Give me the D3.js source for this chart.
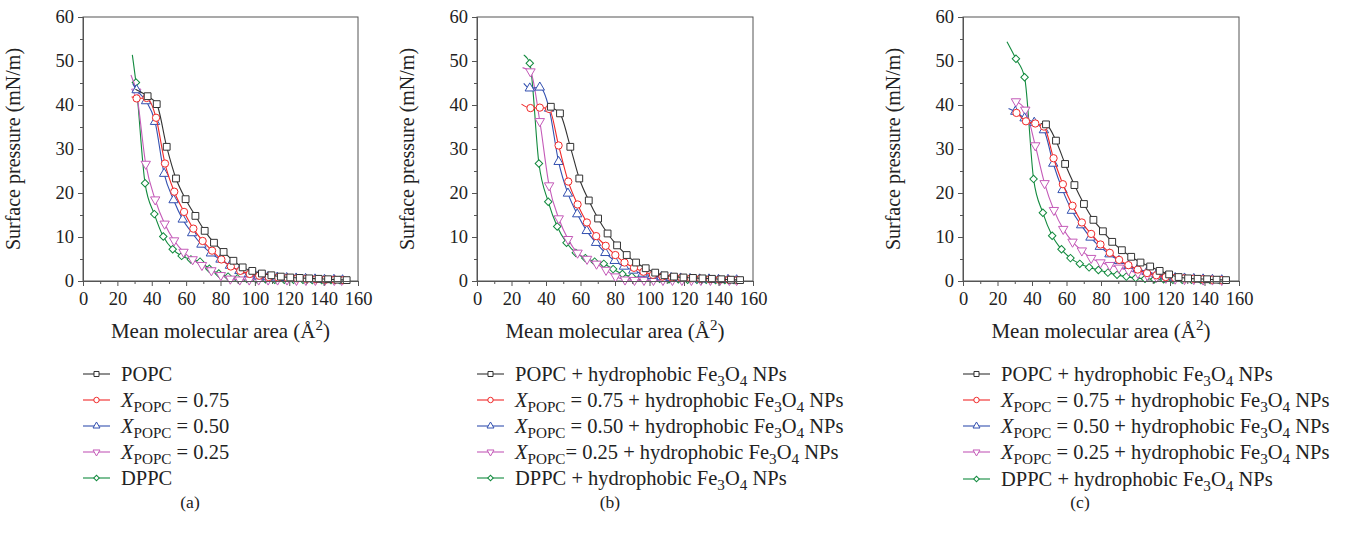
<!DOCTYPE html>
<html>
<head>
<meta charset="utf-8">
<script src="https://cdn.jsdelivr.net/npm/d3@7"></script>
<style>
  body { margin: 0; background: #fff; }
  svg { font-family: "Liberation Serif", "DejaVu Serif", serif; }
</style>
</head>
<body>
<div id="chart"></div>
<script>
// tick values
const xTicks = [0, 20, 40, 60, 80, 100, 120, 140, 160];
const xMinor = [10, 30, 50, 70, 90, 110, 130, 150];
const yTicks = [0, 10, 20, 30, 40, 50, 60];
const yMinor = [5, 15, 25, 35, 45, 55];

// legend texts (tiny markup: <i>, <sub>, <sup>)
const labelsA = [
  "POPC",
  "<i>X</i><sub>POPC</sub> = 0.75",
  "<i>X</i><sub>POPC</sub> = 0.50",
  "<i>X</i><sub>POPC</sub> = 0.25",
  "DPPC"
];
const labelsB = [
  "POPC + hydrophobic Fe<sub>3</sub>O<sub>4</sub> NPs",
  "<i>X</i><sub>POPC</sub> = 0.75 + hydrophobic Fe<sub>3</sub>O<sub>4</sub> NPs",
  "<i>X</i><sub>POPC</sub> = 0.50 + hydrophobic Fe<sub>3</sub>O<sub>4</sub> NPs",
  "<i>X</i><sub>POPC</sub>= 0.25 + hydrophobic Fe<sub>3</sub>O<sub>4</sub> NPs",
  "DPPC + hydrophobic Fe<sub>3</sub>O<sub>4</sub> NPs"
];
const labelsC = [
  "POPC + hydrophobic Fe<sub>3</sub>O<sub>4</sub> NPs",
  "<i>X</i><sub>POPC</sub> = 0.75 + hydrophobic Fe<sub>3</sub>O<sub>4</sub> NPs",
  "<i>X</i><sub>POPC</sub> = 0.50 + hydrophobic Fe<sub>3</sub>O<sub>4</sub> NPs",
  "<i>X</i><sub>POPC</sub> = 0.25 + hydrophobic Fe<sub>3</sub>O<sub>4</sub> NPs",
  "DPPC + hydrophobic Fe<sub>3</sub>O<sub>4</sub> NPs"
];

// isotherms [area, pressure]; first point is the start of the trace (no marker)
// panel (a)
const a_popc = [[30.5,43.6],[37.6,42.0],[42.9,40.2],[48.7,30.5],[54.1,23.3],[59.7,18.6],[65.4,14.8],[70.8,11.4],[76.2,8.7],[81.8,6.6],[87.5,4.6],[92.9,3.1],[98.5,2.3],[104.1,1.7],[109.6,1.3],[115.1,1.0],[120.6,0.8],[126.1,0.7],[131.6,0.6],[137.1,0.5],[142.6,0.4],[148.1,0.3],[153.4,0.2]];
const a_x75 = [[28.3,41.9],[31.2,41.5],[37.0,41.6],[42.5,37.1],[47.7,26.7],[53.1,20.3],[58.8,15.7],[64.2,11.9],[69.6,9.1],[75.1,6.9],[80.5,4.9],[86.0,3.3],[91.5,2.3],[97.0,1.6],[102.5,1.2],[108.0,0.9],[113.5,0.8],[119.0,0.7],[124.5,0.6],[130.0,0.5],[135.5,0.4],[141.0,0.3],[146.5,0.3],[151.5,0.2]];
const a_x50 = [[29.0,44.8],[31.2,43.4],[36.7,40.9],[41.9,36.2],[47.2,24.4],[52.7,18.4],[58.0,14.0],[63.5,10.9],[68.9,8.3],[74.4,6.3],[80.0,4.9],[85.5,3.5],[91.0,2.3],[96.6,1.6],[102.0,1.1],[107.5,0.9],[113.0,0.8],[118.5,0.7],[124.0,0.6],[129.5,0.5],[135.0,0.4],[140.5,0.3],[146.0,0.3],[151.0,0.2]];
const a_x25 = [[27.9,46.8],[31.0,43.0],[36.5,26.6],[42.0,18.5],[47.5,13.0],[53.0,9.2],[58.5,6.6],[63.8,4.9],[69.2,3.6],[74.7,2.4],[80.2,1.3],[85.7,0.5],[91.2,0.3],[96.7,0.3],[102.2,0.3],[107.7,0.3],[113.2,0.3],[118.7,0.3],[124.2,0.2],[129.7,0.2],[135.2,0.2],[140.7,0.2],[146.2,0.2],[150.5,0.2]];
const a_dppc = [[28.7,51.4],[30.8,45.1],[36.1,22.2],[41.5,15.2],[46.7,10.1],[52.2,7.2],[57.4,5.7],[62.8,4.9],[68.1,4.4],[73.5,2.8],[79.0,1.7],[84.4,1.0],[89.8,0.6],[95.3,0.5],[100.7,0.4],[106.2,0.4],[111.6,0.3],[117.1,0.3],[122.5,0.3],[128.0,0.3],[133.4,0.2],[138.9,0.2],[144.3,0.2],[149.5,0.2]];
// panel (b)
const b_popc = [[41.5,40.0],[42.8,39.6],[48.1,38.1],[54.1,30.5],[59.3,23.3],[64.8,18.3],[70.2,14.2],[75.7,10.8],[81.2,8.1],[86.8,5.9],[92.2,4.2],[97.8,2.9],[103.3,1.9],[108.7,1.3],[114.2,1.0],[119.7,0.8],[125.2,0.7],[130.7,0.6],[136.2,0.5],[141.7,0.4],[147.2,0.3],[152.5,0.2]];
const b_x75 = [[25.8,40.2],[31.0,39.3],[36.4,39.4],[41.8,39.1],[47.3,30.8],[52.9,22.6],[58.3,17.4],[63.7,13.3],[69.1,10.2],[74.6,8.0],[80.2,5.9],[85.5,4.2],[91.0,3.0],[96.5,2.1],[102.0,1.4],[107.5,1.0],[113.0,0.8],[118.5,0.7],[124.0,0.6],[129.5,0.5],[135.0,0.4],[140.5,0.3],[146.0,0.3],[151.0,0.2]];
const b_x50 = [[27.1,44.9],[30.6,43.8],[36.4,44.0],[41.8,39.2],[47.3,27.1],[52.7,19.9],[58.1,15.2],[63.6,11.4],[69.0,8.7],[74.4,6.4],[79.8,4.6],[85.2,3.3],[90.6,2.4],[96.0,1.7],[101.5,1.2],[107.0,0.9],[112.5,0.7],[118.0,0.6],[123.5,0.5],[129.0,0.4],[134.5,0.4],[140.0,0.3],[145.5,0.3],[150.5,0.2]];
const b_x25 = [[26.4,48.5],[31.0,47.6],[36.4,36.3],[41.8,21.7],[47.4,14.2],[52.8,9.5],[58.3,6.4],[63.8,5.0],[69.3,3.9],[74.8,2.5],[80.3,1.0],[85.8,0.3],[91.3,0.2],[96.8,0.2],[102.3,0.2],[107.8,0.2],[113.3,0.2],[118.8,0.2],[124.3,0.2],[129.8,0.2],[135.3,0.2],[140.8,0.2],[146.3,0.2],[150.5,0.2]];
const b_dppc = [[27.1,51.4],[30.6,49.5],[35.9,26.7],[41.3,18.0],[46.5,12.4],[51.9,8.7],[57.3,6.4],[62.8,5.2],[68.2,4.4],[73.5,3.9],[78.9,2.7],[84.3,1.6],[89.7,1.0],[95.1,0.8],[100.5,0.6],[105.9,0.5],[111.3,0.4],[116.7,0.4],[122.1,0.3],[127.5,0.3],[132.9,0.3],[138.3,0.2],[143.7,0.2],[149.0,0.2]];
// panel (c)
const c_popc = [[45.0,35.8],[48.1,35.6],[53.9,31.9],[59.2,26.6],[64.6,21.8],[70.1,17.5],[75.6,13.9],[81.1,11.3],[86.5,8.9],[92.1,7.0],[97.5,5.5],[102.9,4.2],[108.5,3.3],[114.0,2.3],[119.5,1.5],[125.0,0.9],[130.5,0.6],[136.0,0.5],[141.5,0.4],[147.0,0.3],[152.5,0.2]];
const c_x75 = [[29.5,38.6],[31.0,38.2],[36.5,36.3],[41.9,35.8],[46.9,35.1],[52.5,27.9],[57.9,22.0],[63.5,17.1],[68.9,13.3],[74.3,10.7],[79.7,8.3],[85.1,6.4],[90.5,4.8],[95.9,3.6],[101.3,2.6],[106.7,1.8],[112.1,1.3],[117.5,0.9],[122.9,0.7],[128.3,0.6],[133.7,0.5],[139.1,0.4],[144.5,0.3],[150.0,0.2]];
const c_x50 = [[26.4,39.2],[30.3,38.5],[35.7,37.0],[41.3,36.0],[46.9,34.3],[52.3,26.7],[57.7,20.7],[63.1,16.0],[68.5,12.7],[73.9,9.9],[79.3,7.8],[84.9,6.1],[90.4,4.6],[95.9,3.5],[101.3,2.8],[106.7,2.1],[112.2,1.5],[117.6,1.0],[123.0,0.7],[128.4,0.6],[133.8,0.5],[139.2,0.4],[144.6,0.3],[150.0,0.2]];
const c_x25 = [[28.8,41.0],[30.7,40.8],[36.1,38.9],[41.9,30.8],[47.3,22.2],[52.7,16.1],[58.1,11.8],[63.5,8.9],[68.9,6.9],[74.3,5.2],[79.7,4.2],[85.1,3.6],[90.5,3.0],[96.0,2.4],[101.4,1.8],[106.8,1.3],[112.2,0.9],[117.6,0.7],[123.0,0.5],[128.4,0.4],[133.8,0.4],[139.2,0.3],[144.6,0.3],[150.0,0.2]];
const c_dppc = [[25.5,54.4],[30.7,50.5],[35.7,46.3],[40.9,23.2],[46.3,15.5],[51.7,10.3],[57.1,7.2],[62.3,5.2],[67.7,3.9],[73.1,3.1],[78.5,2.5],[84.0,1.9],[89.3,1.4],[94.7,1.0],[100.1,0.7],[105.5,0.5],[110.9,0.4],[116.3,0.4],[121.7,0.3],[127.1,0.3],[132.5,0.3],[137.9,0.2],[143.3,0.2],[148.7,0.2]];

const colors = ["#333333", "#f02828", "#3350b0", "#c45ab8", "#128a3e"];
const symbols = [
  { type: d3.symbolSquare, size: 46, rot: 0 },
  { type: d3.symbolCircle, size: 42, rot: 0 },
  { type: d3.symbolTriangle, size: 38, rot: 0 },
  { type: d3.symbolTriangle, size: 38, rot: 180 },
  { type: d3.symbolSquare, size: 28, rot: 45 }
];

const panels = [
  { left: 83, right: 358, titleX: 20, series: [a_popc, a_x75, a_x50, a_x25, a_dppc], labels: labelsA, caption: "(a)", capX: 190, rows: [374, 400, 426, 452, 478] },
  { left: 477, right: 753, titleX: 414, series: [b_popc, b_x75, b_x50, b_x25, b_dppc], labels: labelsB, caption: "(b)", capX: 610, rows: [374, 400, 426, 452, 478] },
  { left: 963, right: 1239, titleX: 900, series: [c_popc, c_x75, c_x50, c_x25, c_dppc], labels: labelsC, caption: "(c)", capX: 1080, rows: [374, 400, 426, 452, 479] }
];

const W = 1347, H = 542;
const plotTop = 17, plotBottom = 281;
const legendFont = 20.5, titleFont = 21;

const svg = d3.select("#chart").append("svg")
  .attr("width", W)
  .attr("height", H);

// writes "<i>X</i><sub>POPC</sub> ..." into a text element as tspans
function richText(sel, str, size) {
  const parts = str.split(/(<i>.*?<\/i>|<sub>.*?<\/sub>|<sup>.*?<\/sup>)/).filter(s => s.length);
  let shift = 0;
  parts.forEach(p => {
    let txt = p, dy = 0, fs = size, style = "normal";
    if (p.startsWith("<i>")) { txt = p.slice(3, -4); style = "italic"; }
    if (p.startsWith("<sub>")) { txt = p.slice(5, -6); dy = size * 0.24; fs = size * 0.74; }
    if (p.startsWith("<sup>")) { txt = p.slice(5, -6); dy = -size * 0.4; fs = size * 0.72; }
    sel.append("tspan")
      .attr("dy", dy - shift)
      .attr("font-size", fs)
      .attr("font-style", style)
      .text(txt);
    shift = dy;
  });
}

function marker(g, i, scale) {
  const s = symbols[i];
  return g.append("path")
    .attr("d", d3.symbol().type(s.type).size(s.size * scale)())
    .attr("fill", "#fff")
    .attr("stroke", colors[i])
    .attr("stroke-width", 1);
}

panels.forEach(p => {
  const x = d3.scaleLinear().domain([0, 160]).range([p.left, p.right]);
  const y = d3.scaleLinear().domain([0, 60]).range([plotBottom, plotTop]);
  const g = svg.append("g");

  // frame
  g.append("rect")
    .attr("x", p.left).attr("y", plotTop)
    .attr("width", p.right - p.left).attr("height", plotBottom - plotTop)
    .attr("fill", "none").attr("stroke", "#555").attr("stroke-width", 1);

  const line = d3.line()
    .x(d => x(d[0]))
    .y(d => y(d[1]))
    .curve(d3.curveMonotoneX);

  // draw in reverse so the black trace ends on top, as in the figure
  d3.range(p.series.length).reverse().forEach(i => {
    const data = p.series[i];
    g.append("path")
      .datum(data)
      .attr("d", line)
      .attr("fill", "none")
      .attr("stroke", colors[i])
      .attr("stroke-width", 1.1);
    g.selectAll(null)
      .data(data.slice(1))
      .enter()
      .append("path")
        .attr("d", d3.symbol().type(symbols[i].type).size(symbols[i].size)())
        .attr("transform", d => "translate(" + x(d[0]) + "," + y(d[1]) + ") rotate(" + symbols[i].rot + ")")
        .attr("fill", "#fff")
        .attr("stroke", colors[i])
        .attr("stroke-width", 1);
  });

  // axes
  g.append("g")
    .attr("transform", "translate(0," + plotBottom + ")")
    .call(d3.axisBottom(x).tickValues(xTicks).tickSize(5).tickPadding(6).tickFormat(d3.format("d")));
  g.append("g")
    .attr("transform", "translate(0," + plotBottom + ")")
    .call(d3.axisBottom(x).tickValues(xMinor).tickSize(3).tickFormat(""));
  g.append("g")
    .attr("transform", "translate(" + p.left + ",0)")
    .call(d3.axisLeft(y).tickValues(yTicks).tickSize(5).tickPadding(4));
  g.append("g")
    .attr("transform", "translate(" + p.left + ",0)")
    .call(d3.axisLeft(y).tickValues(yMinor).tickSize(3).tickFormat(""));
  g.selectAll(".domain").attr("stroke", "#555");
  g.selectAll(".tick line").attr("stroke", "#555");
  g.selectAll(".tick text")
    .attr("font-family", "Liberation Serif, serif")
    .attr("font-size", 18.5)
    .attr("fill", "#222");

  // axis titles
  const yt = g.append("text")
    .attr("transform", "translate(" + p.titleX + "," + ((plotTop + plotBottom) / 2) + ") rotate(-90)")
    .attr("text-anchor", "middle")
    .attr("dy", "0.35em")
    .attr("font-size", 20)
    .attr("fill", "#222");
  richText(yt, "Surface pressure (mN/m)", 20);

  const xt = g.append("text")
    .attr("x", (p.left + p.right) / 2)
    .attr("y", 338)
    .attr("text-anchor", "middle")
    .attr("font-size", titleFont)
    .attr("fill", "#222");
  richText(xt, "Mean molecular area (Å<sup>2</sup>)", titleFont);

  // legend
  p.labels.forEach((lab, i) => {
    const ry = p.rows[i];
    const lg = g.append("g");
    lg.append("line")
      .attr("x1", p.left).attr("x2", p.left + 27)
      .attr("y1", ry).attr("y2", ry)
      .attr("stroke", colors[i]).attr("stroke-width", 1.1);
    marker(lg, i, 0.55)
      .attr("transform", "translate(" + (p.left + 13.5) + "," + ry + ") rotate(" + symbols[i].rot + ")");
    const t = lg.append("text")
      .attr("x", p.left + 38)
      .attr("y", ry + 7)
      .attr("font-size", legendFont)
      .attr("fill", "#222");
    richText(t, lab, legendFont);
  });

  // caption
  g.append("text")
    .attr("x", p.capX)
    .attr("y", 508)
    .attr("text-anchor", "middle")
    .attr("font-size", 17.5)
    .attr("fill", "#222")
    .text(p.caption);
});
</script>
</body>
</html>
